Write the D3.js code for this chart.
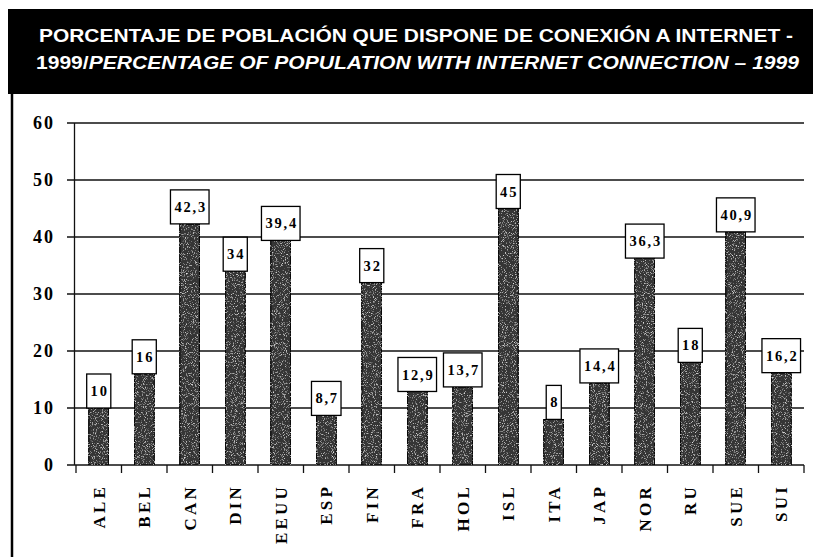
<!DOCTYPE html>
<html lang="es">
<head>
<meta charset="utf-8">
<script src="https://d3js.org/d3.v7.min.js"></script>
<style>
  body { margin: 0; background: #fff; }
  svg { display: block; }
</style>
</head>
<body>
<div id="chart"></div>
<script>
// data
const countries = ["ALE","BEL","CAN","DIN","EEUU","ESP","FIN","FRA","HOL","ISL","ITA","JAP","NOR","RU","SUE","SUI"];
const values = [10, 16, 42.3, 34, 39.4, 8.7, 32, 12.9, 13.7, 45, 8, 14.4, 36.3, 18, 40.9, 16.2];
const yTicks = [0, 10, 20, 30, 40, 50, 60];
const titleLine1 = "PORCENTAJE DE POBLACIÓN QUE DISPONE DE CONEXIÓN A INTERNET -";
const titleLine2a = "1999/";
const titleLine2b = "PERCENTAGE OF POPULATION WITH INTERNET CONNECTION – 1999";

const W = 813, H = 557;
const plot = {left: 76, right: 804, top: 123, bottom: 465};

const svg = d3.select("#chart").append("svg")
  .attr("width", W).attr("height", H);

// grain for the scanned-looking bars
const defs = svg.append("defs");
const f = defs.append("filter").attr("id", "grain")
  .attr("x", 0).attr("y", 0).attr("width", 1).attr("height", 1);
f.append("feTurbulence").attr("type", "fractalNoise")
  .attr("baseFrequency", 1.1).attr("numOctaves", 2).attr("seed", 3).attr("result", "noise");
f.append("feColorMatrix").attr("in", "noise").attr("type", "matrix")
  .attr("values", "0 0 0 0 1  0 0 0 0 1  0 0 0 0 1  2.4 0 0 0 -1.35")
  .attr("result", "specks");
f.append("feComposite").attr("in", "specks").attr("in2", "SourceGraphic")
  .attr("operator", "in").attr("result", "clipped");
const fm = f.append("feMerge");
fm.append("feMergeNode").attr("in", "SourceGraphic");
fm.append("feMergeNode").attr("in", "clipped");

// header
svg.append("rect")
  .attr("x", 8).attr("y", 9).attr("width", W - 8).attr("height", 85)
  .attr("fill", "#000");

svg.append("text")
  .attr("x", 39).attr("y", 42)
  .attr("textLength", 754).attr("lengthAdjust", "spacingAndGlyphs")
  .style("font-family", "'Liberation Sans', Arial, sans-serif")
  .style("font-weight", "bold").style("font-size", "19px")
  .attr("fill", "#fff")
  .text(titleLine1);

const t2 = svg.append("text")
  .attr("x", 36).attr("y", 69)
  .attr("textLength", 763).attr("lengthAdjust", "spacingAndGlyphs")
  .style("font-family", "'Liberation Sans', Arial, sans-serif")
  .style("font-weight", "bold").style("font-size", "19px")
  .attr("fill", "#fff");
t2.append("tspan").text(titleLine2a);
t2.append("tspan").style("font-style", "italic").text(titleLine2b);

// left frame line
svg.append("line")
  .attr("x1", 12).attr("x2", 12).attr("y1", 94).attr("y2", H)
  .attr("stroke", "#000").attr("stroke-width", 2.5);

const x = d3.scaleBand()
  .domain(countries)
  .range([plot.left, plot.right])
  .padding(0);

const y = d3.scaleLinear()
  .domain([0, 60])
  .range([plot.bottom, plot.top]);

// gridlines + y ticks
svg.append("g")
  .selectAll("line")
  .data(yTicks)
  .join("line")
    .attr("x1", plot.left - 9).attr("x2", plot.right)
    .attr("y1", d => y(d)).attr("y2", d => y(d))
    .attr("stroke", "#111").attr("stroke-width", 1.3);

svg.append("g")
  .selectAll("text")
  .data(yTicks)
  .join("text")
    .attr("x", 55).attr("y", d => y(d)).attr("dy", "0.35em")
    .attr("text-anchor", "end")
    .style("font-family", "'Liberation Serif', 'Times New Roman', serif")
    .style("font-weight", "bold").style("font-size", "18px")
    .style("letter-spacing", "2px")
    .text(d => d);

// y axis line
svg.append("line")
  .attr("x1", plot.left - 1.5).attr("x2", plot.left - 1.5)
  .attr("y1", plot.top).attr("y2", plot.bottom)
  .attr("stroke", "#111").attr("stroke-width", 1.3);

// x ticks at band edges
const edges = countries.map(c => x(c)).concat([plot.right]);
svg.append("g")
  .selectAll("line")
  .data(edges)
  .join("line")
    .attr("x1", d => d).attr("x2", d => d)
    .attr("y1", plot.bottom).attr("y2", plot.bottom + 8)
    .attr("stroke", "#111").attr("stroke-width", 1.3);

// bars
const barW = x.bandwidth() * 0.44;
svg.append("g")
  .selectAll("rect")
  .data(values)
  .join("rect")
    .attr("x", (d, i) => x(countries[i]) + x.bandwidth() / 2 - barW / 2)
    .attr("y", d => y(d))
    .attr("width", barW)
    .attr("height", d => y(0) - y(d))
    .attr("fill", "#363636")
    .attr("stroke", "#000").attr("stroke-width", 1.2)
    .attr("filter", "url(#grain)");

// value labels in boxes
const lab = svg.append("g")
  .selectAll("g")
  .data(values)
  .join("g")
    .attr("transform", (d, i) => `translate(${x(countries[i]) + x.bandwidth() / 2},${y(d)})`);

lab.append("rect")
  .attr("fill", "#fff").attr("stroke", "#000").attr("stroke-width", 1.3);

const txt = lab.append("text")
  .attr("x", 0).attr("y", -17).attr("dy", "0.35em")
  .attr("text-anchor", "middle")
  .style("font-family", "'Liberation Serif', 'Times New Roman', serif")
  .style("font-weight", "bold").style("font-size", "14.5px")
  .style("letter-spacing", "1.8px")
  .text(d => String(d).replace(".", ","));

txt.each(function () {
  const bb = this.getBBox();
  const w = bb.width + 6;
  d3.select(this.parentNode).select("rect")
    .attr("x", -w / 2).attr("y", -34)
    .attr("width", w).attr("height", 34);
  d3.select(this).attr("x", 0.9);
});

// x category labels, rotated
svg.append("g")
  .selectAll("text")
  .data(countries)
  .join("text")
    .attr("transform", d => `translate(${x(d) + x.bandwidth() / 2},484) rotate(-90)`)
    .attr("text-anchor", "end")
    .attr("dy", "0.35em")
    .style("font-family", "'Liberation Serif', 'Times New Roman', serif")
    .style("font-weight", "bold").style("font-size", "17px")
    .style("letter-spacing", "3.2px")
    .text(d => d);
</script>
</body>
</html>
